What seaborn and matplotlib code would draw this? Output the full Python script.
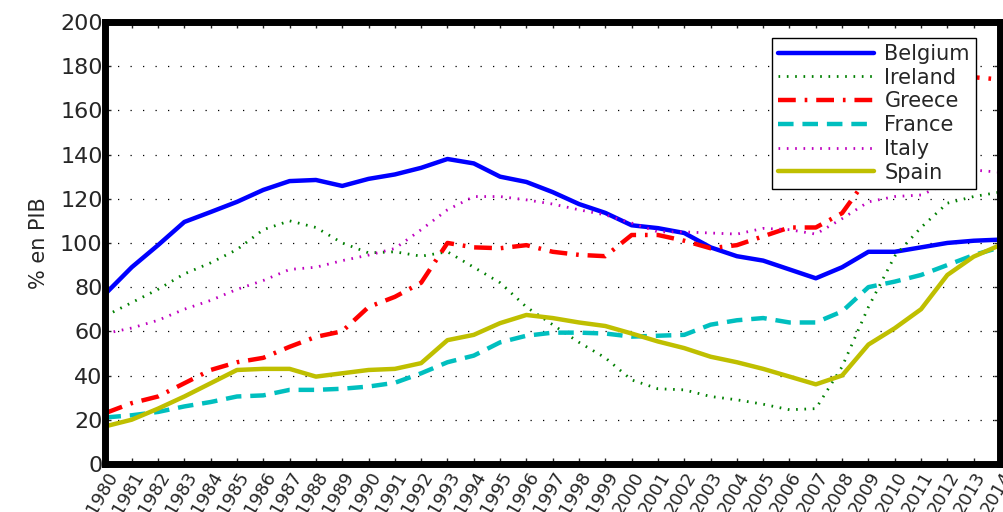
import numpy as np
import pandas as pd
import seaborn as sns
import matplotlib.pyplot as plt

sns.set_style("white")
plt.rcParams['font.family'] = ['DejaVu Sans']

years = list(range(1980, 2015))

belgium = [77, 89, 99, 109.5, 114, 118.6, 124, 128, 128.5, 125.8, 129, 131,
           134, 138, 136, 130, 127.6, 123, 117.6, 113.6, 108, 106.7, 104.5, 98,
           94, 92, 88, 84, 89, 96, 96, 98, 100, 101, 101.5]
ireland = [67, 73, 79, 86, 91, 97, 106, 110, 107, 100, 95.5, 96,
           94, 96, 89, 82, 71, 63, 55, 48, 38, 34, 33.5, 30.5,
           29, 27, 24.5, 25, 44, 71, 94, 107, 118, 121, 123]
greece = [23, 27.5, 30.5, 36.5, 42.5, 46, 48, 53, 57.5, 60, 71, 75.6,
          82, 100, 98, 97.6, 99, 96, 94.6, 94, 103.6, 103.6, 101, 97.6,
          99, 103, 107, 107, 113.5, 130, 147, 171, 157, 175, 174]
france = [21, 22, 23.5, 26, 28, 30.5, 31, 33.5, 33.5, 34, 35, 36.7,
          41, 46, 49, 55, 58, 59.4, 59.4, 59, 57.6, 58, 58.4, 63,
          65, 66, 64, 64, 69, 80, 82.5, 85.5, 90, 94.5, 98]
italy = [59, 61.5, 65, 70, 74, 79, 83, 88, 89, 92, 94.5, 97.5,
         106, 115, 121, 121, 119.5, 117.6, 115, 112.7, 109, 105, 105, 104.5,
         104, 106.6, 106, 104, 111, 118.6, 121, 121.7, 127, 133, 132]
spain = [17, 20, 25, 30.5, 36.5, 42.5, 43, 43, 39.5, 41, 42.5, 43,
         45.6, 56, 58.4, 63.7, 67.4, 66, 64, 62.4, 59, 55.4, 52.4, 48.5,
         46, 43, 39.5, 36, 40, 54, 61.4, 70, 85.5, 93.8, 99]

countries = ["Belgium", "Ireland", "Greece", "France", "Italy", "Spain"]
values = [belgium, ireland, greece, france, italy, spain]
colors = ["#0000ff", "#008000", "#ff0000", "#00bfbf", "#bf00bf", "#bfbf00"]
styles = ["-", (0, (0.6, 2.4)), (0, (4, 2, 0.6, 2)), (0, (3.5, 2)), (0, (0.6, 2.4)), "-"]
widths = [3.2, 2.0, 3.2, 3.2, 2.0, 3.2]

fig = plt.figure(figsize=(10.04, 5.12), dpi=100)
ax = fig.add_axes([0.105, 0.094, 0.891, 0.863])

for name, vals, c, ls, lw in zip(countries, values, colors, styles, widths):
    sns.lineplot(x=years, y=vals, ax=ax, color=c, linestyle=ls, linewidth=lw, label=name)

ax.set_xlim(1980, 2014)
ax.set_ylim(0, 200)
ax.set_yticks(range(0, 201, 20))
ax.set_xticks(years)
ax.set_xticklabels([str(y) for y in years], rotation=60, ha="right", rotation_mode="anchor", fontsize=13)
ax.tick_params(axis='y', labelsize=16, pad=2)
ax.tick_params(direction='in', length=4, top=True, right=True, bottom=True, left=True, width=1)
ax.yaxis.grid(True, linestyle=(0, (1, 9)), color='black', linewidth=0.9)
ax.xaxis.grid(False)
for s in ax.spines.values():
    s.set_linewidth(5)
    s.set_color('black')
ax.set_ylabel("% en PIB", fontsize=15, labelpad=8)
ax.set_xlabel("")

leg = ax.legend(loc="upper right", fontsize=15, handlelength=4.6, frameon=True, fancybox=False,
                framealpha=1, edgecolor='black', borderpad=0.3, labelspacing=0.18,
                handletextpad=0.5, bbox_to_anchor=(0.985, 0.988))
leg.get_frame().set_linewidth(1)

plt.savefig("out.png", dpi=100)
